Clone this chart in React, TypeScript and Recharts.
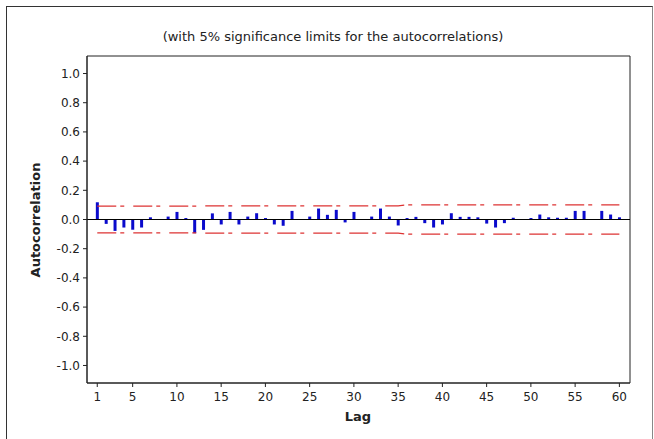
import {
  ComposedChart,
  Bar,
  Line,
  XAxis,
  YAxis,
  ReferenceLine,
  ReferenceArea,
} from 'recharts'

// lags 1..60
const lags = [
  1, 2, 3, 4, 5, 6, 7, 8, 9, 10, 11, 12, 13, 14, 15, 16, 17, 18, 19, 20,
  21, 22, 23, 24, 25, 26, 27, 28, 29, 30, 31, 32, 33, 34, 35, 36, 37, 38, 39, 40,
  41, 42, 43, 44, 45, 46, 47, 48, 49, 50, 51, 52, 53, 54, 55, 56, 57, 58, 59, 60,
]

const acf = [
  0.118, -0.03, -0.078, -0.055, -0.07, -0.055, 0.015, 0.003, 0.02, 0.052,
  0.01, -0.094, -0.071, 0.042, -0.034, 0.052, -0.034, 0.02, 0.043, 0.01,
  -0.034, -0.043, 0.059, 0.002, 0.02, 0.075, 0.032, 0.066, -0.02, 0.052,
  0.003, 0.02, 0.075, 0.02, -0.041, 0.01, 0.018, -0.025, -0.055, -0.034,
  0.043, 0.018, 0.018, 0.015, -0.028, -0.055, -0.025, 0.012, 0.002, 0.01,
  0.034, 0.015, 0.012, 0.012, 0.059, 0.059, 0.002, 0.059, 0.034, 0.015,
]

const upperLimit = [
  0.091, 0.092, 0.092, 0.092, 0.092, 0.092, 0.092, 0.092, 0.092, 0.092,
  0.092, 0.092, 0.093, 0.093, 0.093, 0.093, 0.093, 0.093, 0.093, 0.093,
  0.093, 0.093, 0.093, 0.093, 0.093, 0.093, 0.093, 0.093, 0.093, 0.093,
  0.093, 0.093, 0.093, 0.093, 0.094, 0.1, 0.1, 0.1, 0.1, 0.1,
  0.1, 0.1, 0.1, 0.1, 0.1, 0.1, 0.1, 0.1, 0.1, 0.1,
  0.1, 0.1, 0.1, 0.1, 0.1, 0.1, 0.1, 0.1, 0.1, 0.1,
]

const lowerLimit = [
  -0.091, -0.092, -0.092, -0.092, -0.092, -0.092, -0.092, -0.092, -0.092, -0.092,
  -0.092, -0.092, -0.093, -0.093, -0.093, -0.093, -0.093, -0.093, -0.093, -0.093,
  -0.093, -0.093, -0.093, -0.093, -0.093, -0.093, -0.093, -0.093, -0.093, -0.093,
  -0.093, -0.093, -0.093, -0.093, -0.094, -0.1, -0.1, -0.1, -0.1, -0.1,
  -0.1, -0.1, -0.1, -0.1, -0.1, -0.1, -0.1, -0.1, -0.1, -0.1,
  -0.1, -0.1, -0.1, -0.1, -0.1, -0.1, -0.1, -0.1, -0.1, -0.1,
]

const xTicks = [1, 5, 10, 15, 20, 25, 30, 35, 40, 45, 50, 55, 60]
const yTicks = [-1, -0.8, -0.6, -0.4, -0.2, 0, 0.2, 0.4, 0.6, 0.8, 1]

const data = lags.map((lag, i) => ({
  lag,
  acf: acf[i],
  upper: upperLimit[i],
  lower: lowerLimit[i],
}))

const font = '"DejaVu Sans", Verdana, sans-serif'
const tickStyle = { fill: '#222', fontSize: 12, fontFamily: font }
const limitColor = '#dd3333'
const dash = '19 4 4 9'

export default function App() {
  return (
    <div
      style={{
        position: 'absolute',
        left: 0,
        top: 0,
        width: 654,
        height: 439,
        background: '#fff',
        overflow: 'hidden',
      }}
    >
      <div
        style={{
          position: 'absolute',
          left: 6,
          top: 6,
          width: 645,
          height: 450,
          borderLeft: '1px solid #333',
          borderTop: '1px solid #333',
          borderRight: '1px solid #888',
        }}
      />
      <div
        style={{
          position: 'absolute',
          left: 0,
          width: 666,
          top: 29,
          textAlign: 'center',
          fontFamily: font,
          fontSize: 13,
          color: '#222',
        }}
      >
        (with 5% significance limits for the autocorrelations)
      </div>
      <div
        style={{
          position: 'absolute',
          left: 35,
          top: 220,
          transform: 'translate(-50%, -50%) rotate(-90deg)',
          fontFamily: font,
          fontSize: 13,
          fontWeight: 'bold',
          color: '#222',
          whiteSpace: 'nowrap',
        }}
      >
        Autocorrelation
      </div>
      <div
        style={{
          position: 'absolute',
          left: 358,
          top: 416,
          transform: 'translate(-50%, -50%)',
          fontFamily: font,
          fontSize: 13,
          fontWeight: 'bold',
          color: '#222',
        }}
      >
        Lag
      </div>
      <div style={{ position: 'absolute', left: 0, top: 0 }}>
        <ComposedChart
          width={654}
          height={439}
          data={data}
          margin={{ top: 56, right: 24, bottom: 26, left: 0 }}
        >
          <XAxis
            dataKey="lag"
            type="number"
            domain={[-0.16, 61.2]}
            ticks={xTicks}
            interval={0}
            height={30}
            tickSize={4}
            tickMargin={5}
            stroke="#222"
            tick={tickStyle}
            allowDataOverflow
          />
          <YAxis
            type="number"
            domain={[-1.12, 1.12]}
            ticks={yTicks}
            interval={0}
            width={87}
            tickSize={4}
            tickMargin={3}
            stroke="#222"
            tick={tickStyle}
            tickFormatter={(v: number) => v.toFixed(1)}
            allowDataOverflow
          />
          <ReferenceArea
            x1={-0.16}
            x2={61.2}
            y1={-1.12}
            y2={1.12}
            fill="none"
            stroke="#222"
            strokeWidth={1}
          />
          <ReferenceLine y={0} stroke="#000" strokeWidth={1} />
          <Line
            dataKey="upper"
            type="linear"
            stroke={limitColor}
            strokeWidth={1.3}
            strokeDasharray={dash}
            dot={false}
            activeDot={false}
            isAnimationActive={false}
          />
          <Line
            dataKey="lower"
            type="linear"
            stroke={limitColor}
            strokeWidth={1.3}
            strokeDasharray={dash}
            dot={false}
            activeDot={false}
            isAnimationActive={false}
          />
          <Bar dataKey="acf" fill="#0a0acc" barSize={3} isAnimationActive={false} />
        </ComposedChart>
      </div>
    </div>
  )
}
